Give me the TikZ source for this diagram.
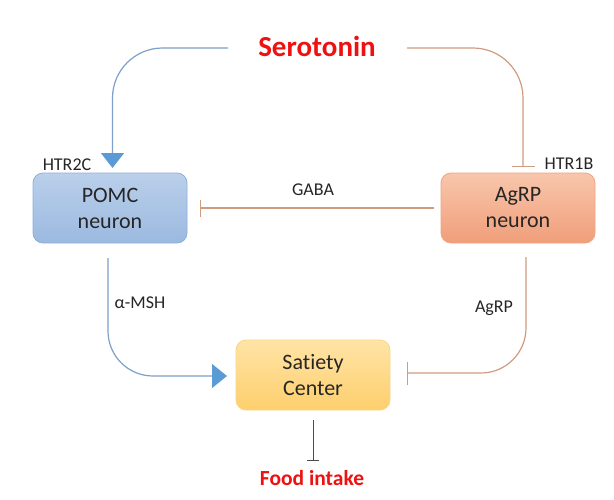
\documentclass[tikz,border=0pt]{standalone}
\usepackage{fontspec}
\setmainfont{Carlito}[Ligatures=NoCommon]
\usetikzlibrary{arrows.meta}
\definecolor{bluel}{HTML}{7FA0C8}
\definecolor{bluetip}{HTML}{5B9BD5}
\definecolor{orl}{HTML}{D09C80}
\definecolor{txt}{HTML}{262626}
\definecolor{redt}{HTML}{EE1111}
\definecolor{pomcT}{HTML}{BAD0EB}
\definecolor{pomcB}{HTML}{9BB9DF}
\definecolor{pomcD}{HTML}{8FB0D9}
\definecolor{agrpT}{HTML}{F8C6AC}
\definecolor{agrpB}{HTML}{F09E79}
\definecolor{agrpD}{HTML}{EFA684}
\definecolor{satT}{HTML}{FFE4A6}
\definecolor{satB}{HTML}{FECF6D}
\definecolor{satD}{HTML}{F8D68C}
\tikzset{
  box/.style={rounded corners=10pt, minimum width=154pt, minimum height=70pt, align=center, text=txt, font=\fontsize{22}{26}\selectfont, line width=0.8pt},
  pomcbox/.style={box, draw=pomcD, top color=pomcT, bottom color=pomcB},
  agrpbox/.style={box, draw=agrpD, top color=agrpT, bottom color=agrpB},
  satbox/.style={box, draw=satD, top color=satT, bottom color=satB},
  lbl/.style={text=txt, font=\fontsize{18}{20}\selectfont, inner sep=0pt},
  redtxt/.style={text=redt, font=\bfseries\fontsize{29}{32}\selectfont, inner sep=0pt},
  bluec/.style={draw=bluel, line width=1.2pt},
  orc/.style={draw=orl, line width=1.2pt},
}
\begin{document}
\begin{tikzpicture}[x=1pt,y=-1pt]
\useasboundingbox[fill=white] (0,0) rectangle (614,499);
\node[redtxt] (sero) at (317,46) {Serotonin};
\node[pomcbox] (pomc) at (110,208) {POMC\\neuron};
\node[agrpbox] (agrp) at (518,208) {AgRP\\neuron};
\node[satbox] (sat) at (313,375) {Satiety\\Center};
\node[redtxt, font=\bfseries\fontsize{21.5}{24}\selectfont] (food) at (312,478) {Food intake};
\node[lbl] (htr2c) at (67,165) {HTR2C};
\node[lbl] (htr1b) at (569,164) {HTR1B};
\node[lbl] (gaba) at (313,190) {GABA};
\node[lbl] (msh) at (140,303) {α-MSH};
\node[lbl] (agrpl) at (494,308) {AgRP};
% connector endpoints
\coordinate (s1) at (228,48);
\coordinate (s2) at (407,48);
\coordinate (p1) at (112.5,168);
\coordinate (a1) at (523,167);
\coordinate (g1) at (agrp.west);
\coordinate (g2) at (200,208);
\coordinate (m1) at (108,258);
\coordinate (m2) at (227,376);
\coordinate (r1) at (526,257);
\coordinate (r2) at (407,373);
\coordinate (f1) at (313,420);
\coordinate (f2) at (313,461);
\draw[bluec, rounded corners=50pt, -{Triangle[length=15pt,width=23pt,fill=bluetip,color=bluetip]}] (s1) -| (p1);
\draw[orc, rounded corners=50pt, -{Bar[width=23pt,line width=1.2pt]}] (s2) -| (a1);
\draw[orc, -{Bar[width=17pt,line width=1.2pt]}] ([xshift=-7pt]g1) -- (g2);
\draw[bluec, rounded corners=45pt, -{Triangle[length=15pt,width=24pt,fill=bluetip,color=bluetip]}] (m1) |- (m2);
\draw[orc, rounded corners=45pt, -{Bar[width=23pt,line width=1.2pt]}] (r1) |- (r2);
\draw[draw=black!70, line width=1pt, -{Bar[width=12pt,line width=1pt]}] (f1) -- (f2);
\end{tikzpicture}
\end{document}
